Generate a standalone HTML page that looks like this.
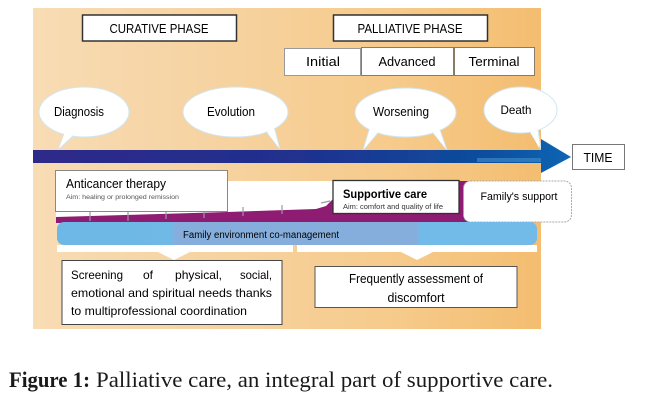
<!DOCTYPE html>
<html><head><meta charset="utf-8"><style>
html,body{margin:0;padding:0;background:#fff;width:650px;height:400px;overflow:hidden}
svg{display:block}
text{font-family:"Liberation Sans",sans-serif;fill:#000}
</style></head><body>
<svg width="650" height="400" viewBox="0 0 650 400" xmlns="http://www.w3.org/2000/svg">
<defs>
<linearGradient id="bg" x1="0" x2="1" y1="0" y2="0">
<stop offset="0" stop-color="#f8dcb4"/><stop offset=".3" stop-color="#f6d4a4"/><stop offset=".7" stop-color="#f6cb8c"/><stop offset="1" stop-color="#f4bd70"/>
</linearGradient>
<linearGradient id="arrow" x1="0" x2="1" y1="0" y2="0">
<stop offset="0" stop-color="#2f2a8a"/><stop offset=".5" stop-color="#20308e"/><stop offset=".85" stop-color="#0c4f9e"/><stop offset="1" stop-color="#0a66b4"/>
</linearGradient>
<linearGradient id="blue" x1="0" x2="1" y1="0" y2="0">
<stop offset="0" stop-color="#6db8e6"/><stop offset=".24" stop-color="#6fb8e6"/><stop offset=".245" stop-color="#86aedd"/><stop offset=".75" stop-color="#86aedd"/><stop offset=".756" stop-color="#72bae8"/><stop offset="1" stop-color="#72bae8"/>
</linearGradient>
<filter id="b" x="-2%" y="-2%" width="104%" height="104%"><feGaussianBlur stdDeviation="0.35"/></filter>
</defs>
<g filter="url(#b)">
<rect x="33" y="8" width="508" height="321" fill="url(#bg)"/>

<!-- phase boxes -->
<rect x="82.5" y="15" width="154" height="26" fill="#fff" stroke="#333" stroke-width="1.5"/>
<text x="159" y="33" font-size="13" text-anchor="middle" textLength="99" lengthAdjust="spacingAndGlyphs">CURATIVE PHASE</text>
<rect x="333.5" y="15" width="154" height="26" fill="#fff" stroke="#333" stroke-width="1.5"/>
<text x="410" y="33" font-size="13" text-anchor="middle" textLength="105" lengthAdjust="spacingAndGlyphs">PALLIATIVE PHASE</text>
<rect x="284.5" y="48.5" width="76" height="27" fill="#fff" stroke="#999"/>
<text x="323" y="66" font-size="13" text-anchor="middle" textLength="34" lengthAdjust="spacingAndGlyphs">Initial</text>
<rect x="361.5" y="47.5" width="92" height="28" fill="#fff" stroke="#8a7a66"/>
<text x="407" y="66" font-size="13" text-anchor="middle" textLength="57" lengthAdjust="spacingAndGlyphs">Advanced</text>
<rect x="454.5" y="47.5" width="80" height="28" fill="#fff" stroke="#8a7a66"/>
<text x="494" y="66" font-size="13" text-anchor="middle" textLength="51" lengthAdjust="spacingAndGlyphs">Terminal</text>

<!-- bubbles -->
<g fill="#fff" stroke="#cfe6f2" stroke-width="1">
<ellipse cx="84" cy="112" rx="45" ry="25"/>
<path d="M58 150 L64 134 L73 136 Z"/>
<ellipse cx="235.500" cy="112" rx="52.500" ry="25"/>
<path d="M280 149 L268 134 L275 130 Z"/>
<ellipse cx="405.500" cy="112.500" rx="50.500" ry="24.500"/>
<path d="M363 150 L369 130 L377 134 Z M447 150 L433 133 L440 130 Z"/>
<path d="M541 149 L528 129 L538 129 Z"/>
<ellipse cx="520.500" cy="110" rx="36.500" ry="23"/>
</g>
<path d="M59 148 L65 132 L74 134 Z M279 148 L267 132 L274 128 Z M364 149 L370 128 L378 132 Z M446 149 L432 131 L439 128 Z M539 148 L528 127 L537 127 Z" fill="#fff"/>
<text x="79" y="116" font-size="12.500" text-anchor="middle" textLength="50" lengthAdjust="spacingAndGlyphs">Diagnosis</text>
<text x="231" y="116" font-size="12.500" text-anchor="middle" textLength="48" lengthAdjust="spacingAndGlyphs">Evolution</text>
<text x="401" y="116" font-size="12.500" text-anchor="middle" textLength="56" lengthAdjust="spacingAndGlyphs">Worsening</text>
<text x="516" y="114" font-size="12" text-anchor="middle" textLength="31" lengthAdjust="spacingAndGlyphs">Death</text>

<!-- arrow -->
<path d="M33 150 H541 V139 L571 157 L541 173 V163 H33 Z" fill="url(#arrow)"/>
<rect x="477" y="158" width="64" height="4" fill="#3f86c4" opacity=".7"/>
<rect x="572.500" y="144.500" width="52" height="25" fill="#fff" stroke="#777"/>
<text x="598" y="162" font-size="12.500" text-anchor="middle" textLength="29" lengthAdjust="spacingAndGlyphs">TIME</text>

<!-- white + purple wedge -->
<rect x="56" y="181" width="290" height="41" fill="#fff"/>
<path d="M56 217 L227 212 L316 209 L326 206 L333 199 L333 181 L480 181 L480 223 L56 223 Z" fill="#8e1a72"/>
<g stroke="#9a9aa8" stroke-width="1.200" fill="none">
<path d="M90 211 V221 M128 211 V221 M166 211 V219 M204 211 V218 M243 207 V216 M282 205 V214 M321 203 L330 201"/>
</g>

<rect x="55.500" y="170.500" width="172" height="41" fill="#fff" stroke="#888"/>
<text x="66" y="188" font-size="12.500" textLength="100" lengthAdjust="spacingAndGlyphs">Anticancer therapy</text>
<text x="66" y="199" font-size="6.500" style="fill:#555" textLength="113" lengthAdjust="spacingAndGlyphs">Aim: healing or prolonged remission</text>

<rect x="333" y="180.500" width="126" height="33" fill="#fff" stroke="#333" stroke-width="1.300"/>
<text x="343" y="198" font-size="12" font-weight="bold" textLength="84" lengthAdjust="spacingAndGlyphs">Supportive care</text>
<text x="343" y="209" font-size="7.500" style="fill:#333" textLength="100" lengthAdjust="spacingAndGlyphs">Aim: comfort and quality of life</text>

<rect x="463.500" y="181" width="108" height="41" rx="7" fill="#fff" stroke="#aaa" stroke-dasharray="2 1"/>
<text x="519" y="200" font-size="11" text-anchor="middle" textLength="77" lengthAdjust="spacingAndGlyphs">Family's support</text>

<!-- blue band -->
<path d="M57 245 H537 V252 H57 Z" fill="#fff"/>
<rect x="293" y="245" width="4" height="7" fill="#f6cf98"/>
<rect x="57" y="222" width="480" height="23" rx="7" fill="url(#blue)"/>
<text x="183" y="238" font-size="10" textLength="156" lengthAdjust="spacingAndGlyphs">Family environment co-management</text>
<path d="M158 252 H190 L174 260 Z M401 252 H433 L417 260 Z" fill="#fff"/>

<!-- lower boxes -->
<rect x="62" y="260.500" width="220" height="64" fill="#fff" stroke="#444"/>
<g font-size="12">
<text x="71" y="279" textLength="52" lengthAdjust="spacingAndGlyphs">Screening</text><text x="143" y="279">of</text><text x="175" y="279" textLength="47" lengthAdjust="spacingAndGlyphs">physical,</text><text x="240" y="279" textLength="32" lengthAdjust="spacingAndGlyphs">social,</text>
<text x="71" y="297" textLength="201" lengthAdjust="spacingAndGlyphs">emotional and spiritual needs thanks</text>
<text x="71" y="315" textLength="176" lengthAdjust="spacingAndGlyphs">to multiprofessional coordination</text>
</g>
<rect x="315" y="266.500" width="202" height="41" fill="#fff" stroke="#555"/>
<text x="416" y="283" font-size="12.500" text-anchor="middle" textLength="134" lengthAdjust="spacingAndGlyphs">Frequently assessment of</text>
<text x="416" y="302" font-size="12.500" text-anchor="middle" textLength="57" lengthAdjust="spacingAndGlyphs">discomfort</text>
</g>

<!-- caption -->
<g style="font-size:22px">
<text x="9" y="387" font-weight="bold" style="font-family:'Liberation Serif',serif;fill:#1a1a1a" textLength="81" lengthAdjust="spacingAndGlyphs">Figure 1:</text>
<text x="96" y="387" style="font-family:'Liberation Serif',serif;fill:#1a1a1a" textLength="457" lengthAdjust="spacingAndGlyphs">Palliative care, an integral part of supportive care.</text>
</g>
</svg>
</body></html>
